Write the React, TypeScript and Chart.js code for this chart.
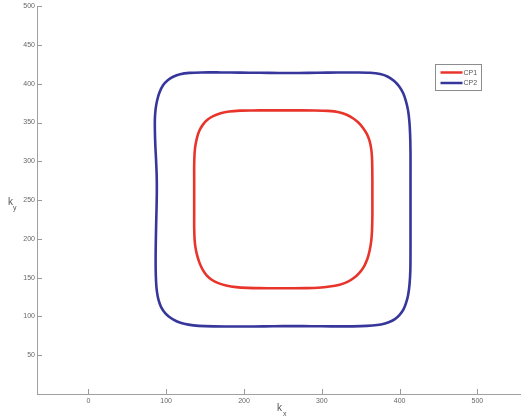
import React, { useEffect, useRef } from "react";
import { Chart, registerables } from "chart.js";

Chart.register(...registerables);

const xTickValues = [0, 100, 200, 300, 400, 500];
const yTickValues = [50, 100, 150, 200, 250, 300, 350, 400, 450, 500];
const seriesNames = ["CP1", "CP2"];

const cp1X = [365, 365, 364.8, 364.5, 363.5, 361.5, 358, 353, 347, 340, 332, 322, 308, 291, 270, 250, 230, 210, 195, 181, 170, 161, 153, 147, 142.5, 139.5, 137.5, 136.5, 136, 136, 136, 136, 136, 136.5, 137.5, 139.5, 142.5, 146.5, 152, 159, 167, 177, 190, 205, 220, 240, 260, 280, 295, 310, 323, 333, 341, 348, 354, 358.5, 361.5, 363.5, 364.5, 365, 365];
const cp1Y = [250, 275, 295, 305, 316, 326, 335, 343, 350, 355.5, 360, 363.3, 365, 365.6, 365.7, 365.7, 365.7, 365.6, 365.3, 364.2, 362, 358.5, 353.5, 347, 339, 330, 320, 310, 295, 275, 250, 230, 215, 200, 190, 180, 170, 161, 153, 147, 143, 140, 137.8, 136.8, 136.5, 136.4, 136.4, 136.5, 137, 138.5, 141, 144.5, 149.5, 156, 164, 174, 185, 197, 210, 230, 250];

const cp2X = [414, 414, 414, 413.5, 412.5, 410.8, 408, 404.5, 399.5, 393, 385, 375, 362, 345, 320, 295, 270, 245, 220, 195, 170, 145, 130, 118, 109, 102, 96, 91.5, 88.5, 86.5, 85.5, 85.5, 86, 87, 87.8, 88, 87.7, 87.2, 86.8, 86.5, 86.5, 87, 88, 90, 93.5, 99, 106, 114, 123, 135, 150, 175, 200, 225, 250, 275, 300, 325, 350, 365, 376, 386, 394, 400, 405, 408.5, 411, 412.8, 413.8, 414, 414, 414];
const cp2Y = [250, 280, 310, 335, 352, 366, 378, 388, 396.5, 403.5, 409, 412.5, 414.2, 414.6, 414.5, 414.2, 413.9, 413.9, 414.1, 414.4, 414.6, 414.6, 414, 412.3, 409, 404.5, 398, 389, 379, 368, 355, 340, 322, 302, 282, 262, 242, 222, 202, 182, 162, 145, 133, 122, 112, 104, 98, 93.5, 90.5, 88.5, 87.5, 87, 87, 87.2, 87.5, 87.5, 87.3, 87.2, 87.5, 88.3, 89.7, 92.5, 96.5, 102, 109, 118, 128, 142, 160, 185, 215, 250];

const colors = ["#e8352c", "#36369b"];
const FONT = "'Liberation Sans', Arial, sans-serif";

function pts(xs: number[], ys: number[]) {
  return xs.map((x, i) => ({ x, y: ys[i] }));
}

const decorPlugin = {
  id: "decor",
  afterDraw(chart: any) {
    const ctx = chart.ctx as CanvasRenderingContext2D;
    const area = chart.chartArea;
    const xs = chart.scales.x;
    const ys = chart.scales.y;
    ctx.save();
    ctx.strokeStyle = "#9a9a9a";
    ctx.lineWidth = 1;
    ctx.beginPath();
    xTickValues.forEach((v) => {
      const px = Math.round(xs.getPixelForValue(v)) + 0.5;
      ctx.moveTo(px, area.bottom);
      ctx.lineTo(px, area.bottom - 5);
    });
    yTickValues.forEach((v) => {
      const py = Math.round(ys.getPixelForValue(v)) + 0.5;
      ctx.moveTo(area.left, py);
      ctx.lineTo(area.left + 5, py);
    });
    ctx.stroke();

    ctx.fillStyle = "#555";
    ctx.textBaseline = "alphabetic";
    ctx.textAlign = "left";
    const cx = (area.left + area.right) / 2;
    ctx.font = `10px ${FONT}`;
    ctx.fillText("k", cx - 2, 411);
    ctx.font = `7px ${FONT}`;
    ctx.fillText("x", cx + 4, 416);
    ctx.font = `10px ${FONT}`;
    ctx.fillText("k", 8, 205);
    ctx.font = `7px ${FONT}`;
    ctx.fillText("y", 13, 210);

    const lx = 435.5, ly = 64.5, lw = 46, lh = 26;
    ctx.fillStyle = "#ffffff";
    ctx.fillRect(lx, ly, lw, lh);
    ctx.strokeStyle = "#8c8c8c";
    ctx.lineWidth = 1;
    ctx.strokeRect(lx, ly, lw, lh);
    chart.data.datasets.forEach((ds: any, i: number) => {
      const yy = ly + 8 + i * 10.5;
      ctx.strokeStyle = ds.borderColor;
      ctx.lineWidth = 2.5;
      ctx.beginPath();
      ctx.moveTo(lx + 5, yy);
      ctx.lineTo(lx + 27, yy);
      ctx.stroke();
      ctx.fillStyle = "#555";
      ctx.font = `7px ${FONT}`;
      ctx.textBaseline = "middle";
      ctx.fillText(ds.label, lx + 28, yy + 0.5);
    });
    ctx.restore();
  },
};

export default function App() {
  const ref = useRef<HTMLCanvasElement | null>(null);
  useEffect(() => {
    document.body.style.margin = "0";
    const canvas = ref.current!;
    const chart = new Chart(canvas, {
      type: "scatter",
      data: {
        datasets: [
          {
            label: seriesNames[0],
            data: pts(cp1X, cp1Y),
            showLine: true,
            borderColor: colors[0],
            backgroundColor: colors[0],
            borderWidth: 2.6,
            pointRadius: 0,
            tension: 0.3,
          },
          {
            label: seriesNames[1],
            data: pts(cp2X, cp2Y),
            showLine: true,
            borderColor: colors[1],
            backgroundColor: colors[1],
            borderWidth: 2.6,
            pointRadius: 0,
            tension: 0.3,
          },
        ],
      },
      options: {
        responsive: false,
        animation: false,
        devicePixelRatio: 1,
        layout: { padding: { top: 6, right: 0, left: 0, bottom: 0 } },
        plugins: { legend: { display: false }, tooltip: { enabled: false } },
        scales: {
          x: {
            type: "linear",
            min: -66,
            max: 556,
            grid: { display: false, drawTicks: false },
            border: { display: true, color: "#a0a0a0", width: 1 },
            afterBuildTicks: (s: any) => {
              s.ticks = xTickValues.map((v) => ({ value: v }));
            },
            afterFit: (s: any) => {
              s.height = 25;
            },
            ticks: {
              padding: 3,
              color: "#666",
              font: { family: FONT, size: 7 },
              maxRotation: 0,
              autoSkip: false,
            },
          },
          y: {
            type: "linear",
            min: 0,
            max: 500,
            grid: { display: false, drawTicks: false },
            border: { display: true, color: "#a0a0a0", width: 1 },
            afterBuildTicks: (s: any) => {
              s.ticks = yTickValues.map((v) => ({ value: v }));
            },
            afterFit: (s: any) => {
              s.width = 37;
            },
            ticks: {
              padding: 2,
              color: "#666",
              font: { family: FONT, size: 7 },
              autoSkip: false,
            },
          },
        },
      },
      plugins: [decorPlugin],
    } as any);
    return () => chart.destroy();
  }, []);
  return (
    <div style={{ width: 521, height: 419 }}>
      <canvas ref={ref} width={521} height={419} style={{ display: "block" }} />
    </div>
  );
}
